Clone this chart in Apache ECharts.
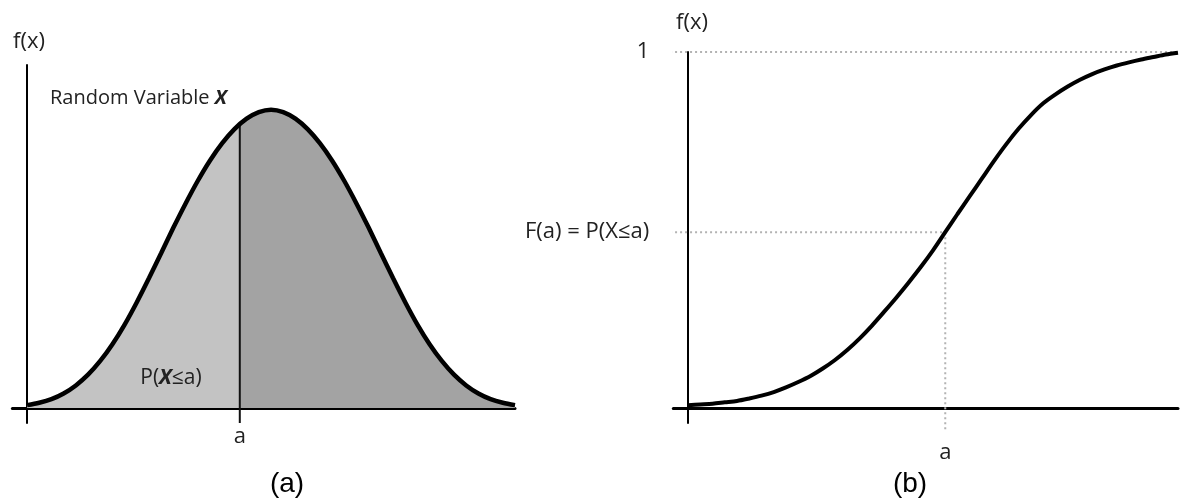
<!DOCTYPE html>
<html><head><meta charset="utf-8">
<script src="https://cdn.jsdelivr.net/npm/echarts@6/dist/echarts.min.js"></script>
<style>html,body{margin:0;padding:0;background:#fff}#c{width:1194px;height:503px}</style>
</head><body><div id="c"></div><script>
// ---- panel (a): density curve ----
const pdfX = [0, 0.25, 0.5, 0.75, 1, 1.25, 1.5, 1.75, 2, 2.25, 2.5, 2.75, 3, 3.25, 3.5, 3.75, 4, 4.25, 4.5, 4.75, 5,
              5.25, 5.5, 5.75, 6, 6.25, 6.5, 6.75, 7, 7.25, 7.5, 7.75, 8, 8.25, 8.5, 8.75, 9, 9.25, 9.5, 9.75, 10];
const pdfY = [0.010, 0.018, 0.030, 0.049, 0.076, 0.112, 0.158, 0.214, 0.280, 0.355, 0.436, 0.520, 0.605, 0.686, 0.762, 0.830, 0.888, 0.935, 0.970, 0.992, 1.000,
              0.992, 0.970, 0.935, 0.888, 0.830, 0.762, 0.686, 0.605, 0.520, 0.436, 0.355, 0.280, 0.214, 0.158, 0.112, 0.076, 0.049, 0.030, 0.018, 0.010];
const aLeft = 4.36;
const pdfAtA = 0.951;
// ---- panel (b): cumulative curve ----
const cdfX = [0, 0.25, 0.5, 0.75, 1, 1.25, 1.5, 1.75, 2, 2.25, 2.5, 2.75, 3, 3.25, 3.5, 3.75, 4, 4.25, 4.5, 4.75, 5,
              5.25, 5.5, 5.75, 6, 6.25, 6.5, 6.75, 7, 7.25, 7.5, 7.75, 8, 8.25, 8.5, 8.75, 9, 9.25, 9.5, 9.75, 10];
const cdfY = [0.008, 0.010, 0.012, 0.016, 0.020, 0.027, 0.035, 0.045, 0.058, 0.073, 0.090, 0.111, 0.135, 0.163, 0.195, 0.231, 0.270, 0.310, 0.352, 0.396, 0.443,
              0.494, 0.545, 0.595, 0.645, 0.695, 0.742, 0.785, 0.823, 0.856, 0.881, 0.903, 0.922, 0.938, 0.951, 0.962, 0.971, 0.979, 0.986, 0.993, 0.998];
const aRight = 5.25;
const FaRight = 0.494;
const oneRight = 1;
// guide extents (data units)
const guideLeftX = -0.57, guideRightX = 10.33, guideBottomY = -0.067;

const pdf = pdfX.map((x, i) => [x, pdfY[i]]);
const pdfLeft = pdf.filter(p => p[0] < aLeft).concat([[aLeft, pdfAtA]]);
const pdfRight = [[aLeft, pdfAtA]].concat(pdf.filter(p => p[0] > aLeft));
const cdf = cdfX.map((x, i) => [x, cdfY[i]]);

const FONT = '"Open Sans", "Noto Sans", sans-serif';
const dotted = { color: '#b3b3b3', width: 2, type: [2, 3] };

const chart = echarts.init(document.getElementById('c'), null, { renderer: 'canvas' });
const baseX = (gi, min, max, aVal, margin) => ({
  type: 'value', gridIndex: gi, min: min, max: max,
  axisLine: { show: true, onZero: true, lineStyle: { color: '#000', width: 3 } },
  axisTick: { show: false }, splitLine: { show: false },
  axisLabel: { show: true, customValues: [aVal], formatter: () => 'a', margin: margin,
    fontFamily: FONT, fontSize: 22, color: '#222' }
});
const txt = (text, x, y, size, opts) => Object.assign({
  type: 'text', x: x, y: y, z: 100,
  style: Object.assign({ text: text, fontFamily: FONT, fontSize: size, fill: '#222', align: 'center', verticalAlign: 'middle' }, opts || {})
});
chart.setOption({
  animation: false,
  grid: [
    { left: 12.4, right: 679, top: 65, bottom: 80 },
    { left: 673.3, right: 16, top: 52, bottom: 80 }
  ],
  xAxis: [ baseX(0, -0.3, 10, aLeft, 3), baseX(1, -0.3, 10, aRight, 19) ],
  yAxis: [
    { type: 'value', gridIndex: 0, min: -0.05, max: 1.15,
      axisLine: { show: true, onZero: true, lineStyle: { color: '#000', width: 2 } },
      axisTick: { show: false }, splitLine: { show: false }, axisLabel: { show: false } },
    { type: 'value', gridIndex: 1, min: -0.042, max: 1,
      axisLine: { show: true, onZero: true, lineStyle: { color: '#000', width: 2 } },
      axisTick: { show: false }, splitLine: { show: false },
      axisLabel: { show: true, customValues: [FaRight, oneRight], margin: 24,
        formatter: v => (v === oneRight ? '1' : 'F(a) = P(X≤a)'),
        fontFamily: FONT, fontSize: 22, color: '#222' } }
  ],
  series: [
    { type: 'line', xAxisIndex: 0, yAxisIndex: 0, data: pdfLeft, smooth: 0.3, symbol: 'none',
      lineStyle: { width: 0 }, areaStyle: { color: '#c3c3c3', opacity: 1 }, z: 1 },
    { type: 'line', xAxisIndex: 0, yAxisIndex: 0, data: pdfRight, smooth: 0.3, symbol: 'none',
      lineStyle: { width: 0 }, areaStyle: { color: '#a3a3a3', opacity: 1 }, z: 1 },
    { type: 'line', xAxisIndex: 0, yAxisIndex: 0, data: [[aLeft, -0.05], [aLeft, pdfAtA]], symbol: 'none',
      lineStyle: { color: '#111', width: 2 }, z: 3 },
    { type: 'line', xAxisIndex: 0, yAxisIndex: 0, data: pdf, smooth: 0.3, symbol: 'none',
      lineStyle: { color: '#000', width: 4.5 }, z: 4 },
    // panel b guides
    { type: 'line', xAxisIndex: 1, yAxisIndex: 1, clip: false, data: [[guideLeftX, oneRight], [guideRightX, oneRight]],
      symbol: 'none', lineStyle: dotted, z: 1 },
    { type: 'line', xAxisIndex: 1, yAxisIndex: 1, clip: false, data: [[guideLeftX, FaRight], [aRight, FaRight]],
      symbol: 'none', lineStyle: dotted, z: 1 },
    { type: 'line', xAxisIndex: 1, yAxisIndex: 1, clip: false, data: [[aRight, FaRight], [aRight, guideBottomY]],
      symbol: 'none', lineStyle: dotted, z: 1 },
    { type: 'line', xAxisIndex: 1, yAxisIndex: 1, data: cdf, smooth: 0.3, symbol: 'none',
      lineStyle: { color: '#000', width: 4 }, z: 4 }
  ],
  graphic: [
    txt('f(x)', 29, 42, 22),
    txt('f(x)', 692, 23, 22),
    txt('{n|Random Variable }{i|X}', 50, 98, 20, { align: 'left',
        rich: { n: { fontFamily: FONT, fontSize: 20, color: '#222' },
                i: { fontFamily: FONT, fontSize: 20, fontStyle: 'italic', fontWeight: 'bold', color: '#222' } } }),
    txt('{n|P(}{i|X}{n|≤a)}', 171, 378, 21, {
        rich: { n: { fontFamily: FONT, fontSize: 21, color: '#5e4c55' },
                i: { fontFamily: FONT, fontSize: 21, fontStyle: 'italic', fontWeight: 'bold', color: '#5e4c55' } } }),
    txt('(a)', 287, 484, 28, { fontFamily: '"Liberation Sans", Arial, sans-serif', fill: '#000' }),
    txt('(b)', 910, 484, 28, { fontFamily: '"Liberation Sans", Arial, sans-serif', fill: '#000' })
  ]
});
</script></body></html>
